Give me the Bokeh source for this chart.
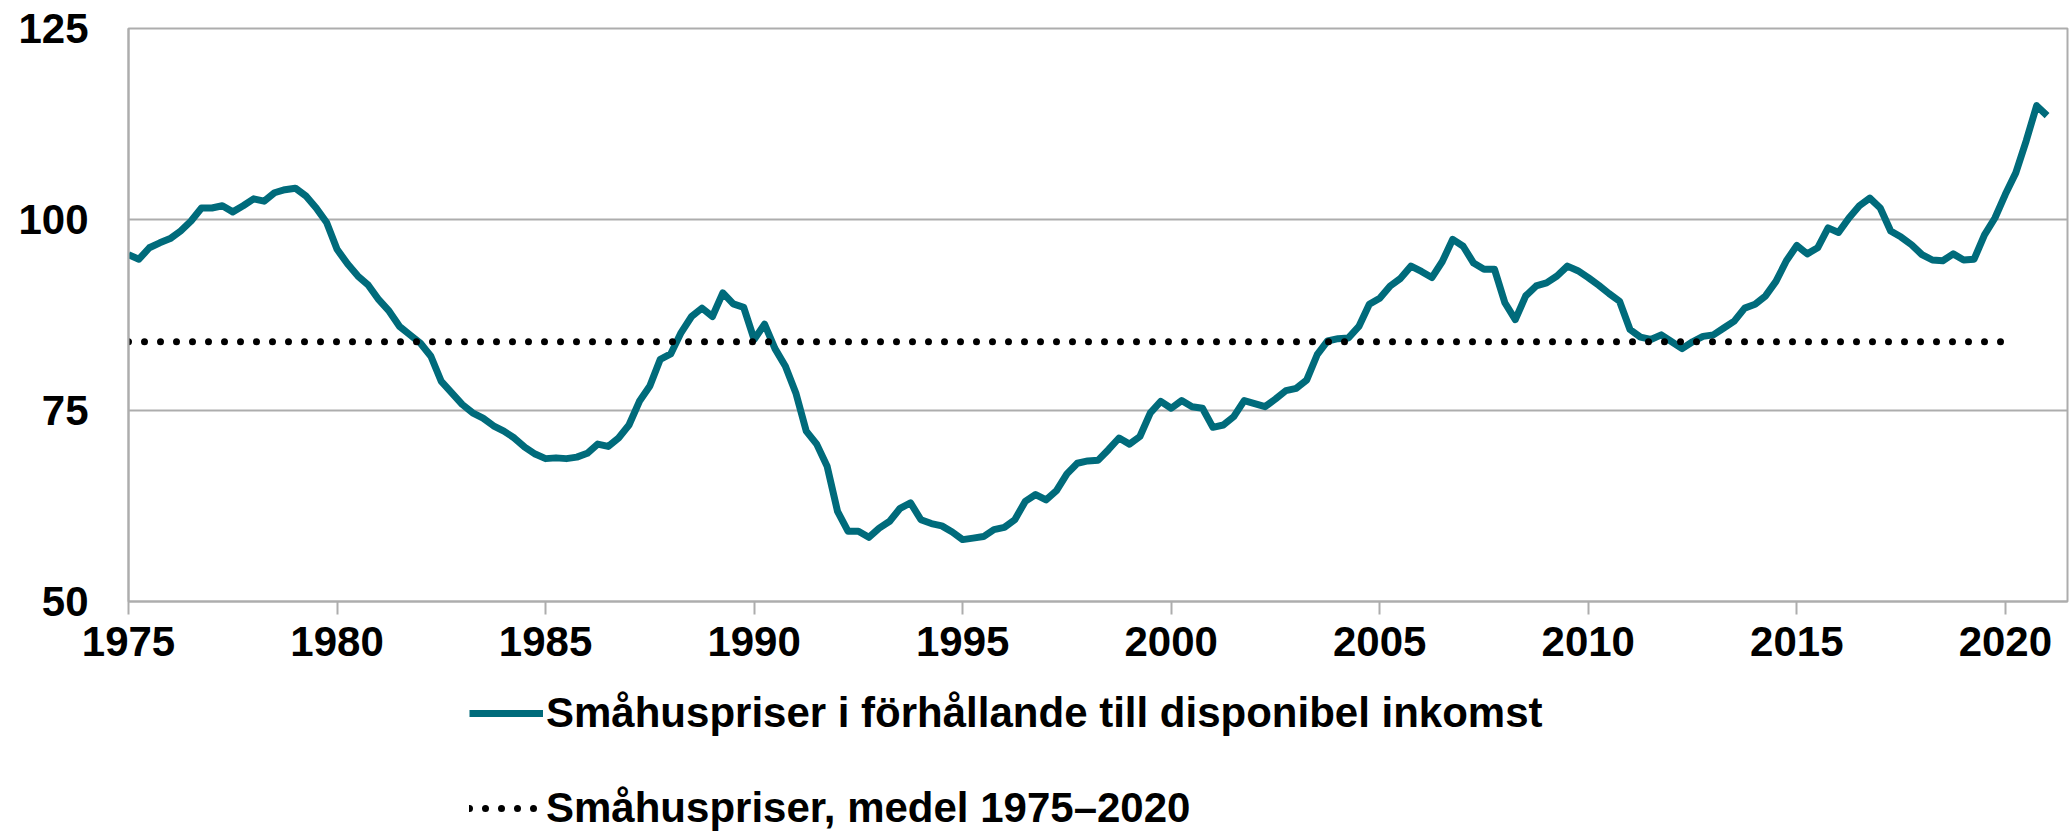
from bokeh.plotting import figure
from bokeh.layouts import column
from bokeh.models import Range1d, FixedTicker, Legend, LegendItem
from bokeh.embed import file_html
from bokeh.resources import INLINE

# Quarterly values, 1975Q1 ..., grouped in 5-year blocks
v_1975_1979 = [95.4, 94.8, 96.3, 96.95, 97.5, 98.5, 99.8, 101.5, 101.5, 101.8,
               101.0, 101.8, 102.7, 102.4, 103.5, 103.9, 104.1, 103.1, 101.5, 99.6]
v_1980_1984 = [96.1, 94.2, 92.6, 91.4, 89.5, 88.0, 86.0, 84.9, 83.8, 82.1,
               78.8, 77.3, 75.8, 74.7, 74.0, 73.0, 72.3, 71.4, 70.2, 69.3]
v_1985_1989 = [68.7, 68.8, 68.7, 68.9, 69.4, 70.6, 70.3, 71.4, 73.1, 76.2,
               78.2, 81.7, 82.4, 85.2, 87.3, 88.4, 87.3, 90.4, 88.95, 88.5]
v_1990_1994 = [84.3, 86.3, 83.1, 80.8, 77.3, 72.3, 70.6, 67.7, 61.8, 59.2,
               59.2, 58.4, 59.6, 60.5, 62.2, 62.9, 60.7, 60.2, 59.9, 59.1]
v_1995_1999 = [58.1, 58.3, 58.5, 59.4, 59.7, 60.7, 63.1, 64.0, 63.3, 64.5,
               66.7, 68.1, 68.4, 68.5, 69.9, 71.4, 70.6, 71.6, 74.7, 76.2]
v_2000_2004 = [75.3, 76.3, 75.5, 75.3, 72.8, 73.1, 74.2, 76.3, 75.9, 75.5,
               76.5, 77.6, 77.9, 79.0, 82.3, 84.1, 84.4, 84.5, 86.0, 88.9]
v_2005_2009 = [89.7, 91.3, 92.3, 93.9, 93.2, 92.4, 94.5, 97.4, 96.5, 94.3,
               93.5, 93.5, 89.1, 86.9, 90.0, 91.3, 91.7, 92.6, 93.9, 93.3]
v_2010_2014 = [92.4, 91.4, 90.3, 89.3, 85.6, 84.6, 84.3, 84.9, 84.0, 83.1,
               84.0, 84.7, 84.9, 85.8, 86.7, 88.4, 88.9, 90.0, 91.9, 94.6]
v_2015_2019 = [96.6, 95.5, 96.3, 98.9, 98.3, 100.2, 101.8, 102.8, 101.5, 98.5,
               97.7, 96.7, 95.4, 94.7, 94.6, 95.5, 94.7, 94.8, 98.0, 100.2]
v_2020_2021 = [103.3, 106.1, 110.3, 114.9, 113.6]

start_year = 1975
mean_value = 84.0
mean_start = 1975.0
mean_end = 2020.25

x_ticks = [1975, 1980, 1985, 1990, 1995, 2000, 2005, 2010, 2015, 2020]
y_ticks = [50, 75, 100, 125]

label_main = "Småhuspriser i förhållande till disponibel inkomst"
label_mean = "Småhuspriser, medel 1975–2020"

values = (v_1975_1979 + v_1980_1984 + v_1985_1989 + v_1990_1994 + v_1995_1999 +
          v_2000_2004 + v_2005_2009 + v_2010_2014 + v_2015_2019 + v_2020_2021)
xs = [start_year + i / 4 for i in range(len(values))]

TEAL = "#006B7B"
GRID = "#ADADAD"
FONT = "Liberation Sans"
W = 2070
H_CHART = 680
H_LEG = 152

p = figure(width=W, height=H_CHART, output_backend="svg", toolbar_location=None,
           x_range=Range1d(1975, 2021.49), y_range=Range1d(50, 125),
           min_border_left=128, min_border_right=3, min_border_top=28,
           min_border_bottom=79)
p.background_fill_color = "white"
p.border_fill_color = "white"
p.outline_line_color = GRID
p.outline_line_width = 2

p.xgrid.visible = False
p.ygrid.grid_line_color = GRID
p.ygrid.grid_line_width = 2
p.ygrid.ticker = FixedTicker(ticks=y_ticks)

p.yaxis.ticker = FixedTicker(ticks=y_ticks)
p.yaxis.axis_line_color = GRID
p.yaxis.axis_line_width = 2
p.yaxis.major_tick_out = 0
p.yaxis.major_tick_in = 0
p.yaxis.minor_tick_line_color = None
p.yaxis.major_label_standoff = 40

p.xaxis.ticker = FixedTicker(ticks=x_ticks)
p.xaxis.axis_line_color = GRID
p.xaxis.axis_line_width = 2
p.xaxis.major_tick_line_color = GRID
p.xaxis.major_tick_line_width = 2
p.xaxis.major_tick_out = 13
p.xaxis.major_tick_in = 0
p.xaxis.minor_tick_line_color = None
p.xaxis.major_label_standoff = 12

for ax in (p.xaxis, p.yaxis):
    ax.major_label_text_font = FONT
    ax.major_label_text_font_style = "bold"
    ax.major_label_text_font_size = "42px"
    ax.major_label_text_color = "black"

main_style = dict(line_color=TEAL, line_width=7, line_join="round")
mean_style = dict(line_color="black", line_width=7, line_dash="0 16", line_cap="round")

p.line(xs, values, **main_style)
p.line([mean_start, mean_end], [mean_value, mean_value], **mean_style)

# Legend panel below the chart (its own figure; series drawn out of view as legend proxies)
q = figure(width=W, height=H_LEG, output_backend="svg", toolbar_location=None,
           x_range=Range1d(0, 1), y_range=Range1d(0, 1),
           x_axis_location=None, y_axis_location=None,
           min_border_left=0, min_border_right=0, min_border_top=0,
           min_border_bottom=0)
q.grid.visible = False
q.outline_line_color = None
q.background_fill_color = "white"
q.border_fill_color = "white"
lr1 = q.line(xs, values, **main_style)
lr2 = q.line([mean_start, mean_end], [mean_value, mean_value], **mean_style)

legend = Legend(items=[LegendItem(label=label_main, renderers=[lr1]),
                       LegendItem(label=label_mean, renderers=[lr2])],
                location=(341, 0), orientation="vertical",
                glyph_width=74, glyph_height=42, label_height=42,
                label_standoff=3, spacing=47, padding=0, margin=0,
                border_line_color=None, background_fill_alpha=0,
                label_text_font=FONT, label_text_font_style="bold",
                label_text_font_size="42px", label_text_color="black")
q.add_layout(legend)

open("out.html", "w").write(file_html(column(p, q, spacing=0), INLINE))
